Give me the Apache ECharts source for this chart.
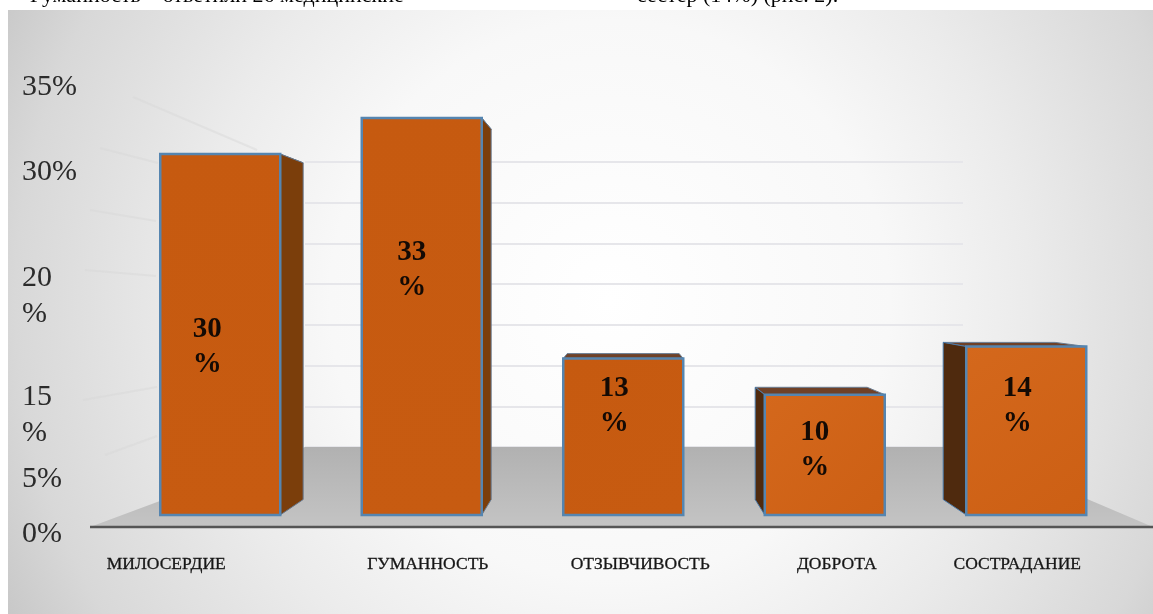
<!DOCTYPE html>
<html><head><meta charset="utf-8">
<style>html,body{margin:0;padding:0;background:#fff}#c{width:1153px;height:614px}</style>
<script src="https://cdn.jsdelivr.net/npm/echarts@6/dist/echarts.min.js"></script>
</head><body><div id="c"></div>
<script>
const categories = ['МИЛОСЕРДИЕ','ГУМАННОСТЬ','ОТЗЫВЧИВОСТЬ','ДОБРОТА','СОСТРАДАНИЕ'];
const values = [30,33,13,10,14];
const tickLabels = ['35%','30%','20\n%','15\n%','5%','0%'];
const tickPlaces = [35.57,28.51,18.2,8.31,2.99,-1.58];
const categoryShift = [-54,6,17,12,-9];
const labelShiftX = [-13,-10,-9,-10,-9];
const labelShiftY = [13,-46,-31,-5,-25];
const wallTicks = [0,5,10,15,20,25,30,35];

const FONT = '"Liberation Serif","Times New Roman",serif';
const VANISH = [622,285], DEPTH = 0.067;
const back = p => [p[0]+(VANISH[0]-p[0])*DEPTH, p[1]+(VANISH[1]-p[1])*DEPTH];
const poly = (pts,fill,stroke,w) => ({type:'polygon',shape:{points:pts},
  style:{fill,stroke:stroke||fill,lineWidth:w||1,lineJoin:'round'}});

function renderBar(params, api){
  const i = api.value(0), v = api.value(1);
  const w = 120;
  const top = api.coord([i,v]), base = api.coord([i,0]);
  const cx = top[0], L = cx-w/2, R = cx+w/2, T = top[1], B = base[1];
  const tl=[L,T],tr=[R,T],bl=[L,B],br=[R,B];
  const tlb=back(tl),trb=back(tr),blb=back(bl),brb=back(br);
  const kids = [];
  kids.push(poly([tl,tr,trb,tlb],'#6f4127','#6a7f96',1));
  if (R < VANISH[0]) kids.push(poly([tr,trb,brb,br],'#7b3e0b','#66778c',1));
  if (L > VANISH[0]) kids.push(poly([tl,tlb,blb,bl],'#4f2a0e','#4a7bab',1));
  kids.push({type:'rect',shape:{x:L,y:T,width:w,height:B-T},
    style:{fill:{type:'linear',x:0,y:0,x2:1,y2:1,colorStops:[{offset:0,color:i>2?'#d4681c':'#c65a10'},{offset:1,color:i>2?'#cc5f14':'#c75b11'}]},
      stroke:'#5585b0',lineWidth:2.5}});
  kids.push({type:'text',style:{x:cx+labelShiftX[i],y:(T+B)/2+labelShiftY[i],
    text:v+'\n%',font:'bold 29px '+FONT,lineHeight:35,fill:'#140a04',align:'center',verticalAlign:'middle'}});
  return {type:'group',children:kids};
}

const option = {
  animation:false,
  backgroundColor:'#ffffff',
  graphic:{elements:[
    {type:'text',z:-20,style:{x:30,y:7,text:'Гуманность – ответили 26 медицинские',font:'22px '+FONT,fill:'#000',verticalAlign:'bottom'}},
    {type:'text',z:-20,style:{x:637,y:7,text:'сестер (14%) (рис. 2).',font:'22px '+FONT,fill:'#000',verticalAlign:'bottom'}},
    {type:'rect',z:-10,shape:{x:8,y:10,width:1145,height:604},
      style:{fill:{type:'radial',global:true,x:610,y:300,r:700,colorStops:[
        {offset:0,color:'#ffffff'},{offset:0.4,color:'#f8f8f8'},{offset:0.6,color:'#ebebeb'},{offset:0.85,color:'#d8d8d8'},{offset:1,color:'#c4c4c4'}]}}},
    ...[[133,97,257,150],[100,148,158,163],[90,210,156,221],[85,270,156,276],[83,400,157,387],[105,455,157,436]].map(l=>({
      type:'line',z:-5,shape:{x1:l[0],y1:l[1],x2:l[2],y2:l[3]},style:{stroke:'#d6d6d6',lineWidth:2,opacity:0.45}})),
    {type:'polygon',z:1,shape:{points:[[90,527],[305,447],[965,447],[1153,527]]},
      style:{fill:{type:'linear',global:true,x:0,y:447,x2:0,y2:527,colorStops:[{offset:0,color:'#b1b1b1'},{offset:1,color:'#c4c4c4'}]}}},
    {type:'line',z:1,shape:{x1:90,y1:527,x2:1153,y2:527},style:{stroke:'#555555',lineWidth:2.5}}
  ]},
  grid:[
    {left:119.5,width:1007.5,top:81.86,height:457.14},
    {left:305,right:190,top:162,height:285}
  ],
  xAxis:[
    {type:'category',gridIndex:0,
     data:categories.map((c,i)=>({value:c,textStyle:{padding:categoryShift[i]>0?[0,0,0,2*categoryShift[i]]:[0,-2*categoryShift[i],0,0]}})),
     position:'bottom',offset:-12,
     axisLine:{show:false,onZero:false},axisTick:{show:false},
     axisLabel:{interval:0,margin:28,fontFamily:FONT,fontSize:17.5,color:'#161616',textBorderColor:'#161616',textBorderWidth:0.3,hideOverlap:false}},
    {type:'value',gridIndex:1,min:0,max:1,show:false}
  ],
  yAxis:[
    {type:'value',gridIndex:0,min:-2,max:36,
     axisLine:{show:false},axisTick:{show:false},splitLine:{show:false},
     axisLabel:{customValues:tickPlaces,margin:97.5,align:'left',fontFamily:FONT,fontSize:30,lineHeight:36,color:'#2b2b2b',
       formatter:v=>tickLabels[tickPlaces.indexOf(v)]}},
    {type:'value',gridIndex:1,min:wallTicks[0],max:wallTicks[wallTicks.length-1],interval:5,
     axisLine:{show:false},axisTick:{show:false},axisLabel:{show:false},
     splitLine:{show:true,lineStyle:{color:'#e6e6ea',width:2}}}
  ],
  series:[{
    type:'custom',xAxisIndex:0,yAxisIndex:0,clip:false,z:5,
    renderItem:renderBar,
    data:values.map((v,i)=>[i,v]),
    encode:{x:0,y:1}
  }]
};
echarts.init(document.getElementById('c'),null,{renderer:'canvas'}).setOption(option);
</script></body></html>
